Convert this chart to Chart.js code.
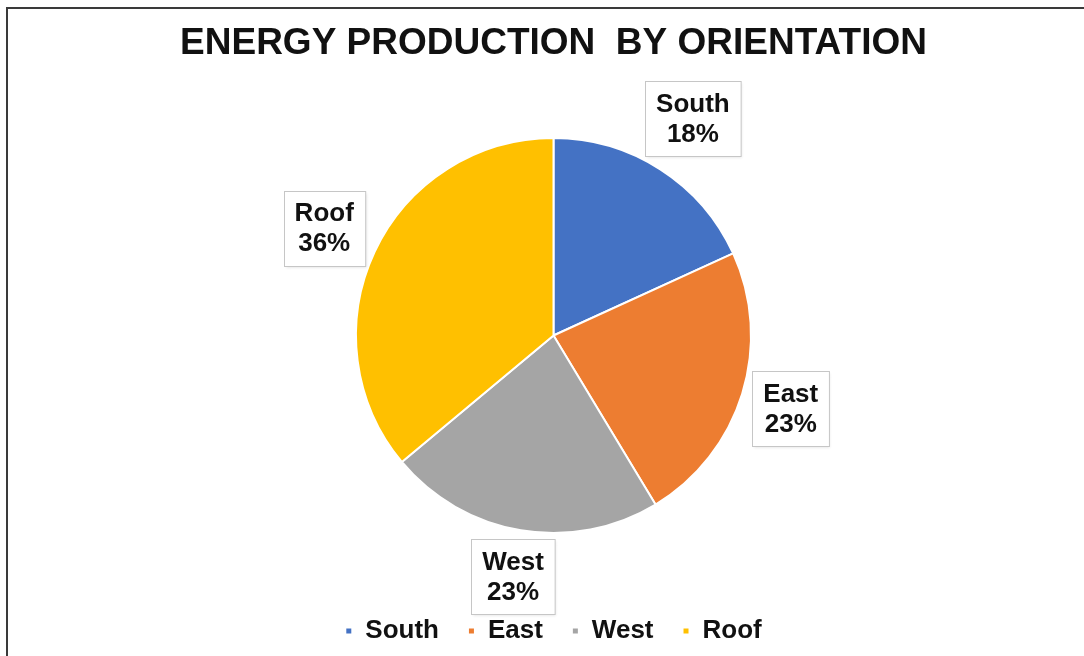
<!DOCTYPE html>
<html>
<head>
<meta charset="utf-8">
<script src="https://cdn.jsdelivr.net/npm/chart.js@4.4.0/dist/chart.umd.min.js"></script>
<style>
  html, body { margin: 0; padding: 0; background: #ffffff; overflow: hidden; }
  #wrap { position: relative; width: 1084px; height: 656px; }
  #frame { position: absolute; left: 6px; top: 7px; width: 1100px; height: 700px; border: 2px solid #3a3a3a; box-sizing: border-box; pointer-events: none; }
  canvas { position: absolute; left: 0; top: 0; }
</style>
</head>
<body>
<div id="wrap">
  <canvas id="c" width="1084" height="656"></canvas>
  <div id="frame"></div>
</div>
<script>
const titleText = 'ENERGY PRODUCTION  BY ORIENTATION';
const categories = ['South', 'East', 'West', 'Roof'];
const shares = [18.2, 23.2, 22.6, 36.1];
const sliceColors = ['#4472C4', '#ED7D31', '#A5A5A5', '#FFC000'];

const FONT = "'Liberation Sans', Arial, sans-serif";

const calloutPlugin = {
  id: 'callouts',
  afterDraw(chart) {
    const ctx = chart.ctx;
    const meta = chart.getDatasetMeta(0);
    const values = chart.data.datasets[0].data;
    const total = values.reduce((a, b) => a + b, 0);
    ctx.save();
    ctx.font = 'bold 26px ' + FONT;
    meta.data.forEach((arc, i) => {
      const p = arc.getProps(['x', 'y', 'startAngle', 'endAngle', 'outerRadius'], true);
      const mid = (p.startAngle + p.endAngle) / 2;
      const line1 = chart.data.labels[i];
      const line2 = Math.round(values[i] / total * 100) + '%';
      const w = Math.max(ctx.measureText(line1).width, ctx.measureText(line2).width) + 22;
      const h = 75;
      const dx = Math.cos(mid), dy = Math.sin(mid);
      const support = (w / 2) * Math.abs(dx) + (h / 2) * Math.abs(dy);
      const r = p.outerRadius + 3 + support;
      const cx = p.x + dx * r;
      const cy = p.y + dy * r;
      const bx = Math.round(cx - w / 2) + 0.5;
      const by = Math.round(cy - h / 2) + 0.5;
      ctx.shadowColor = 'rgba(0,0,0,0.12)';
      ctx.shadowBlur = 3;
      ctx.shadowOffsetX = 1;
      ctx.shadowOffsetY = 1;
      ctx.fillStyle = '#ffffff';
      ctx.fillRect(bx, by, w, h);
      ctx.shadowColor = 'transparent';
      ctx.strokeStyle = '#c6c6c6';
      ctx.lineWidth = 1;
      ctx.strokeRect(bx, by, w, h);
      ctx.fillStyle = '#111111';
      ctx.textAlign = 'center';
      ctx.textBaseline = 'middle';
      ctx.fillText(line1, cx, cy - 14);
      ctx.fillText(line2, cx, cy + 16);
    });
    ctx.restore();
  }
};

new Chart(document.getElementById('c'), {
  type: 'pie',
  data: {
    labels: categories,
    datasets: [{
      data: shares,
      backgroundColor: sliceColors,
      borderColor: '#ffffff',
      borderWidth: 2
    }]
  },
  options: {
    responsive: false,
    animation: false,
    devicePixelRatio: 1,
    layout: { padding: { left: 23, right: 0, top: 0, bottom: 2 } },
    plugins: {
      title: {
        display: true,
        text: titleText,
        color: '#111111',
        font: { family: FONT, size: 37, weight: 'bold', lineHeight: 1.2 },
        padding: { top: 22, bottom: 70.6 }
      },
      legend: {
        display: true,
        position: 'bottom',
        title: { display: true, text: ' ', font: { size: 10, lineHeight: 1.2 }, padding: { top: 43, bottom: 0 } },
        labels: {
          boxWidth: 7,
          boxHeight: 7,
          padding: 29,
          color: '#111111',
          font: { family: FONT, size: 26, weight: 'bold' }
        }
      },
      tooltip: { enabled: false }
    }
  },
  plugins: [calloutPlugin]
});
</script>
</body>
</html>
